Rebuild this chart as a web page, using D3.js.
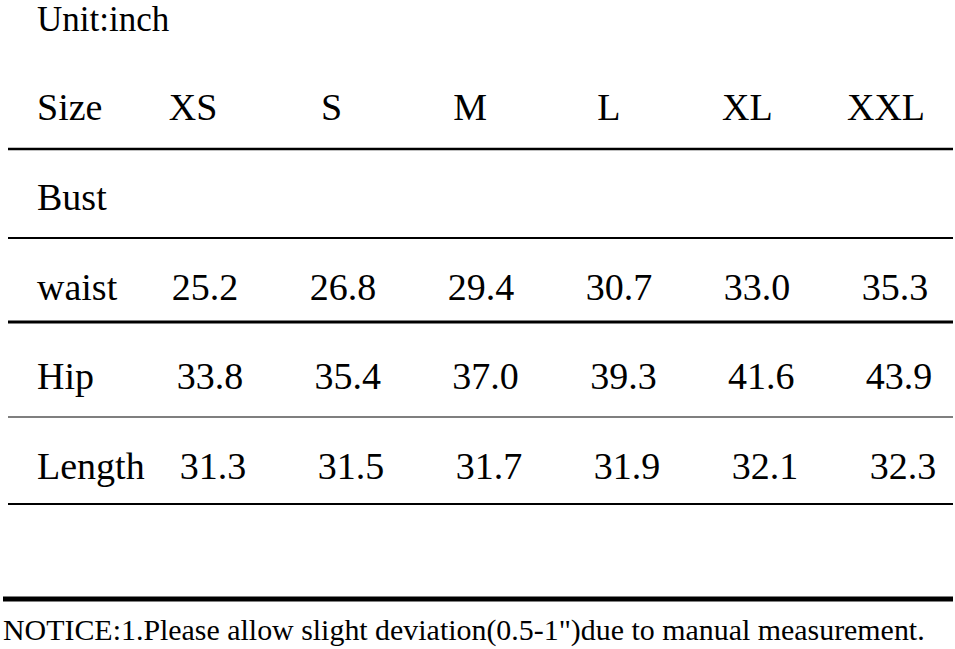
<!DOCTYPE html>
<html>
<head>
<meta charset="utf-8">
<script src="https://cdn.jsdelivr.net/npm/d3@7"></script>
<style>
  body { margin: 0; background: #fff; }
</style>
</head>
<body>
<div id="chart"></div>
<script>
// size table data
var sizes = ["XS", "S", "M", "L", "XL", "XXL"];
var rowNames = ["Bust", "waist", "Hip", "Length"];
var bust = [];
var waist = ["25.2", "26.8", "29.4", "30.7", "33.0", "35.3"];
var hip = ["33.8", "35.4", "37.0", "39.3", "41.6", "43.9"];
var length = ["31.3", "31.5", "31.7", "31.9", "32.1", "32.3"];
var unitLabel = "Unit:inch";
var notice = "NOTICE:1.Please allow slight deviation(0.5-1\")due to manual measurement.";

var width = 955, height = 649;
var serif = "'Liberation Serif', 'Times New Roman', Times, serif";

var svg = d3.select("#chart")
  .append("svg")
    .attr("width", width)
    .attr("height", height)
    .attr("font-family", serif);

svg.append("rect").attr("width", width).attr("height", height).attr("fill", "#fff");

// rows: header + 4 measurement rows
var rows = [
  {label: "Size", values: sizes, range: [193, 886]},
  {label: rowNames[0], values: bust, range: [205, 895]},
  {label: rowNames[1], values: waist, range: [205, 895]},
  {label: rowNames[2], values: hip, range: [210, 899]},
  {label: rowNames[3], values: length, range: [213, 903]}
];

// baseline of each row
var y = d3.scalePoint()
  .domain(d3.range(rows.length))
  .range([120, 479]);

// horizontal rules under each row
var rules = [
  {y: 149, w: 2.5, x0: 8},
  {y: 238, w: 2, x0: 8},
  {y: 322, w: 3, x0: 8},
  {y: 417, w: 1.2, x0: 8},
  {y: 504, w: 2, x0: 8},
  {y: 599, w: 5, x0: 3}
];

svg.selectAll(".rule")
  .data(rules)
  .enter().append("line")
    .attr("class", "rule")
    .attr("x1", function(d) { return d.x0; })
    .attr("x2", 953)
    .attr("y1", function(d) { return d.y; })
    .attr("y2", function(d) { return d.y; })
    .attr("stroke", "#000")
    .attr("stroke-width", function(d) { return d.w; });

svg.append("text")
  .attr("x", 37)
  .attr("y", 31)
  .attr("font-size", 35)
  .text(unitLabel);

rows.forEach(function(r, i) {
  var x = d3.scalePoint().domain(sizes).range(r.range);
  var g = svg.append("g");
  g.append("text")
    .attr("x", 37)
    .attr("y", y(i))
    .attr("font-size", 38)
    .text(r.label);
  g.selectAll(".cell")
    .data(r.values)
    .enter().append("text")
      .attr("class", "cell")
      .attr("x", function(d, j) { return x(sizes[j]); })
      .attr("y", y(i))
      .attr("text-anchor", "middle")
      .attr("font-size", 38)
      .text(function(d) { return d; });
});

var note = svg.append("text")
  .attr("x", 3)
  .attr("y", 640)
  .attr("font-size", 26)
  .text(notice);
// fit notice to its width in the picture
var len = note.node().getComputedTextLength();
note.attr("font-size", (26 * 922 / len).toFixed(2));
</script>
</body>
</html>
